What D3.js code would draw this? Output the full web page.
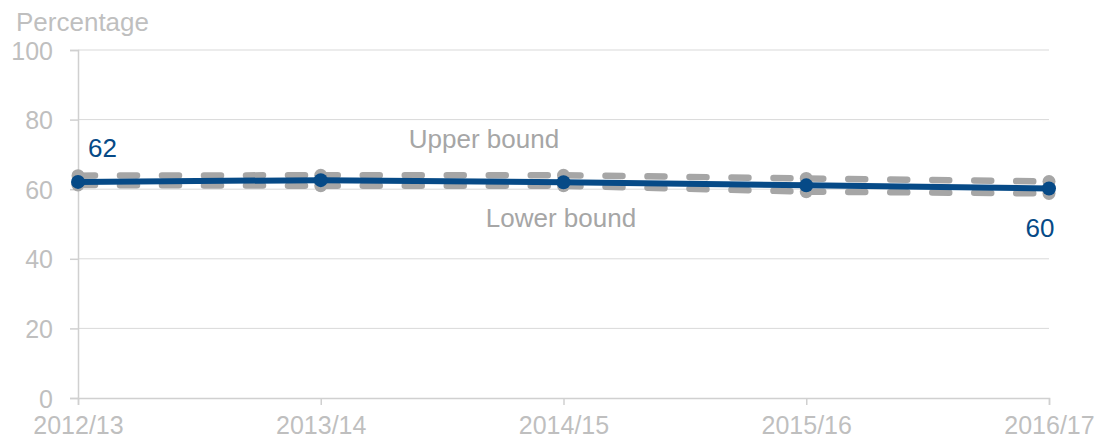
<!DOCTYPE html>
<html>
<head>
<meta charset="utf-8">
<script src="https://cdn.jsdelivr.net/npm/d3@7"></script>
<style>
  body { margin: 0; background: #fff; }
  text { font-family: "Liberation Sans", Arial, sans-serif; }
</style>
</head>
<body>
<div id="visContainer"></div>
<script>
'use strict';
// chart values
var years = ['2012/13', '2013/14', '2014/15', '2015/16', '2016/17'];
var estimate = [62.1, 62.6, 62.0, 61.1, 60.2];
var upper = [63.9, 64.0, 64.0, 63.1, 62.2];
var lower = [61.2, 61.0, 61.0, 59.3, 58.8];
var yTicks = [0, 20, 40, 60, 80, 100];

var width = 1099, height = 440;
var padding = { top: 50, right: 50, bottom: 42, left: 78 };

var svg = d3.select('#visContainer')
  .append('svg')
  .attr('width', width)
  .attr('height', height);

var x = d3.scalePoint()
  .domain(years)
  .range([padding.left, width - padding.right]);
var y = d3.scaleLinear()
  .domain([0, 100])
  .range([height - padding.bottom, padding.top]);

var grey = '#bfbfbf';
var blue = '#064a87';
var boundGrey = '#a6a6a6';

// gridlines
svg.append('g')
  .selectAll('line')
  .data(yTicks.slice(1))
  .enter().append('line')
  .attr('x1', padding.left).attr('x2', width - padding.right)
  .attr('y1', function(d) { return y(d); })
  .attr('y2', function(d) { return y(d); })
  .attr('stroke', '#d9d9d9')
  .attr('stroke-width', 1);

// y axis
var yAxis = svg.append('g')
  .attr('transform', 'translate(' + padding.left + ',0)')
  .call(d3.axisLeft(y).tickValues(yTicks).tickSize(8).tickPadding(17));
yAxis.selectAll('text').attr('font-size', '25px').attr('fill', grey).attr('dy', '0.36em');

// x axis
var xAxis = svg.append('g')
  .attr('transform', 'translate(0,' + y(0) + ')')
  .call(d3.axisBottom(x).tickSize(7).tickPadding(11));
xAxis.selectAll('text').attr('font-size', '25px').attr('fill', grey).attr('dy', '0.71em');

svg.selectAll('.domain, .tick line').attr('stroke', '#d0d0d0').attr('stroke-width', 1.5);

svg.append('text')
  .attr('x', 16).attr('y', 31)
  .attr('font-size', '26px')
  .attr('fill', grey)
  .text('Percentage');

var line = d3.line()
  .x(function(d, i) { return x(years[i]); })
  .y(function(d) { return y(d); });

function drawBound(data) {
  // dashes restart on every segment
  for (var i = 0; i < data.length - 1; i++) {
    svg.append('path')
      .attr('d', line.x(function(d, j) { return x(years[i + j]); })([data[i], data[i + 1]]))
      .attr('fill', 'none')
      .attr('stroke', boundGrey)
      .attr('stroke-width', 6.5)
      .attr('stroke-linecap', 'round')
      .attr('stroke-dasharray', '17,25');
  }
  line.x(function(d, i) { return x(years[i]); });
  svg.append('g').selectAll('circle')
    .data(data).enter().append('circle')
    .attr('cx', function(d, i) { return x(years[i]); })
    .attr('cy', function(d) { return y(d); })
    .attr('r', 6.5)
    .attr('fill', boundGrey);
}
drawBound(upper);
drawBound(lower);

svg.append('path')
  .attr('d', line(estimate))
  .attr('fill', 'none')
  .attr('stroke', blue)
  .attr('stroke-width', 6);
svg.append('g').selectAll('circle')
  .data(estimate).enter().append('circle')
  .attr('cx', function(d, i) { return x(years[i]); })
  .attr('cy', function(d) { return y(d); })
  .attr('r', 7)
  .attr('fill', blue);

// labels
svg.append('text').attr('x', 88).attr('y', 157)
  .attr('font-size', '26px').attr('fill', blue).text('62');
svg.append('text').attr('x', 1040).attr('y', 237)
  .attr('text-anchor', 'middle')
  .attr('font-size', '26px').attr('fill', blue).text('60');
svg.append('text').attr('x', 484).attr('y', 148)
  .attr('text-anchor', 'middle')
  .attr('font-size', '26px').attr('fill', boundGrey).text('Upper bound');
svg.append('text').attr('x', 561).attr('y', 227)
  .attr('text-anchor', 'middle')
  .attr('font-size', '26px').attr('fill', boundGrey).text('Lower bound');
</script>
</body>
</html>
